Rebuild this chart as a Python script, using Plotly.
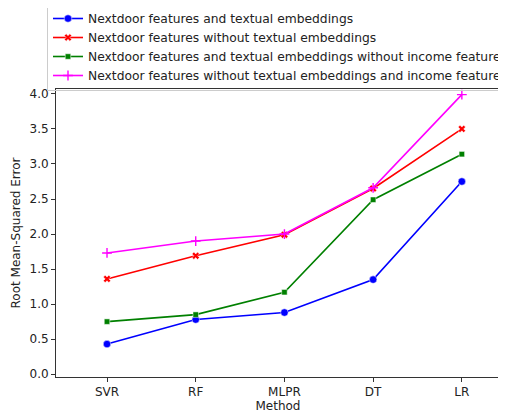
import plotly.graph_objects as go

methods = ["SVR", "RF", "MLPR", "DT", "LR"]
series_names = [
    "Nextdoor features and textual embeddings",
    "Nextdoor features without textual embeddings",
    "Nextdoor features and textual embeddings without income feature",
    "Nextdoor features without textual embeddings and income feature",
]
vals_text = [0.43, 0.78, 0.88, 1.35, 2.75]
vals_no_text = [1.36, 1.69, 1.99, 2.65, 3.50]
vals_text_no_income = [0.75, 0.85, 1.17, 2.49, 3.14]
vals_no_text_no_income = [1.73, 1.90, 2.00, 2.66, 3.99]
y_ticks = [0.0, 0.5, 1.0, 1.5, 2.0, 2.5, 3.0, 3.5, 4.0]

colors = ["#0000ff", "#ff0000", "#008000", "#ff00ff"]
symbols = ["circle", "x", "square", "cross-thin-open"]
sizes = [7.5, 6.5, 5.5, 7]
all_vals = [vals_text, vals_no_text, vals_text_no_income, vals_no_text_no_income]

fig = go.Figure()
for name, vals, c, s, sz in zip(series_names, all_vals, colors, symbols, sizes):
    if s == "cross-thin-open":
        marker = dict(symbol=s, size=sz, color=c, line=dict(color=c, width=1.4))
    else:
        marker = dict(symbol=s, size=sz, color=c, line=dict(color="white", width=0.5))
    fig.add_trace(go.Scatter(x=list(range(len(methods))), y=vals, mode="lines+markers",
                             name=name, line=dict(color=c, width=1.6), marker=marker))

font = dict(family="DejaVu Sans", size=12, color="#222")
legend_font = dict(family="DejaVu Sans", size=12.3, color="#222")
# page has an 8px body margin, so the figure is drawn 8px right/down
W, H = 498, 406
L, R, T, B = 48, 6, 81, 37
pw, ph = W - L - R, H - T - B
fig.update_layout(
    width=W, height=H,
    margin=dict(l=L, r=R, t=T, b=B, autoexpand=False),
    paper_bgcolor="white", plot_bgcolor="white",
    font=font,
    showlegend=True,
    legend=dict(x=(39 - L) / pw, y=(H - B + 5) / ph,
                xanchor="left", yanchor="top", bgcolor="rgba(255,255,255,0)",
                bordercolor="#cccccc", borderwidth=1, font=legend_font,
                tracegroupgap=0, itemwidth=30),
)
fig.update_xaxes(
    range=[-0.575, 4.43], tickmode="array", tickvals=list(range(len(methods))), ticktext=methods,
    showgrid=False, zeroline=False, showline=True, linecolor="#333", linewidth=1, mirror=True,
    ticks="outside", ticklen=4, tickcolor="#333",
    title=dict(text="Method", font=font, standoff=2),
)
fig.update_yaxes(
    range=[-0.04, 4.07], tickmode="array", tickvals=y_ticks, ticktext=[f"{v:.1f}" for v in y_ticks],
    showgrid=False, zeroline=False, showline=True, linecolor="#333", linewidth=1, mirror=True,
    ticks="outside", ticklen=4, tickcolor="#333",
    title=dict(text="Root Mean-Squared Error", font=font, standoff=6),
)
fig.write_html("out.html")
